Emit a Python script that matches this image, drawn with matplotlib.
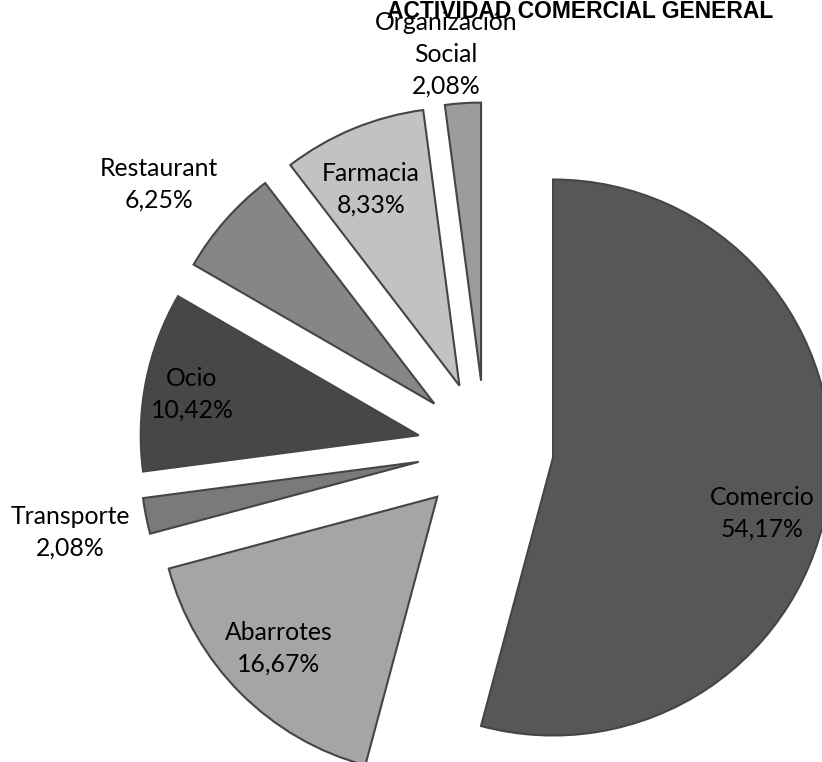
import matplotlib
matplotlib.use("Agg")
import matplotlib.pyplot as plt

categories = ["Comercio", "Abarrotes", "Transporte", "Ocio", "Restaurant", "Farmacia", "Organización\nSocial"]
values = [54.17, 16.67, 2.08, 10.42, 6.25, 8.33, 2.08]
colors = ["#575757", "#a5a5a5", "#7a7a7a", "#474747", "#868686", "#c2c2c2", "#9c9c9c"]
title = "ACTIVIDAD COMERCIAL GENERAL"

W, H = 822, 762
fig = plt.figure(figsize=(W / 100, H / 100), dpi=100)
ax = fig.add_axes([0, 0, 1, 1])

center = (485.5, H - 448.6)
radius = 278
offset = 0.245 * radius  # explode distance in data units
wedges, _ = ax.pie(values, explode=[offset] * len(values), startangle=90, counterclock=False,
                   center=center, radius=radius, colors=colors,
                   wedgeprops=dict(edgecolor="#454545", linewidth=1.5))
ax.set_xlim(0, W)
ax.set_ylim(0, H)
ax.set_aspect("equal")
ax.axis("off")

# label positions in pixel coordinates (from top-left)
label_pos = [(762, 513), (279, 648), (70, 532), (192, 394), (159, 184), (371, 189), (446, 54)]
for cat, v, (x, y) in zip(categories, values, label_pos):
    txt = f"{cat}\n{v:.2f}%".replace(".", ",")
    ax.text(x, H - y, txt, ha="center", va="center", fontsize=17.8, family="Lato",
            color="black", linespacing=1.47)

fig.text(580 / W, 1 - 18 / H, title, ha="center", va="baseline", fontsize=16.5,
         fontweight="bold", family="Liberation Sans")

fig.savefig("out.png", dpi=100)
